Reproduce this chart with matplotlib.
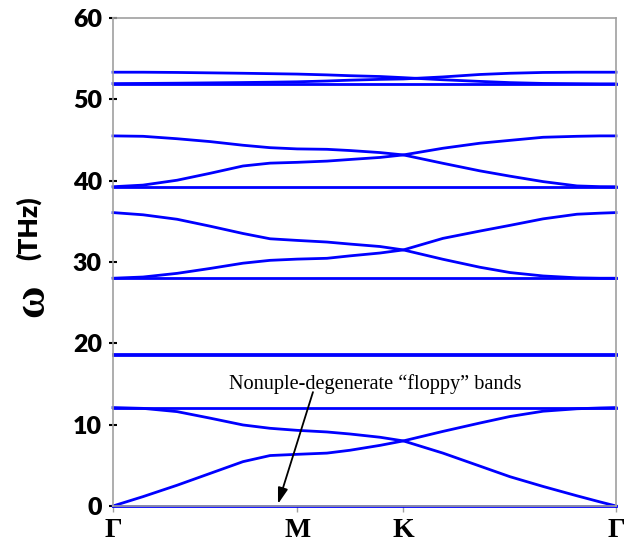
import matplotlib as mpl
mpl.use('Agg')
import matplotlib.pyplot as plt

# high-symmetry points along the path (hexagonal BZ)
sym_pos = [0.0, 1.0, 1.577, 2.732]
sym_labels = ['Γ', 'M', 'K', 'Γ']

# k grid the bands were read at
k = [0.0, 0.163, 0.348, 0.527, 0.706, 0.853, 1.0, 1.162, 1.287, 1.450,
     1.577, 1.792, 1.993, 2.156, 2.336, 2.520, 2.645, 2.732]

# flat bands (THz)
flat_bands = [0.0, 12.1, 18.55, 18.7, 28.0, 39.25, 51.9]

# dispersive bands (THz)
low_up = [0.0, 1.15, 2.55, 4.0, 5.45, 6.2, 6.35, 6.5, 6.85, 7.45,
          8.0, 9.17, 10.2, 11.0, 11.65, 11.95, 12.05, 12.1]
low_down = [12.1, 12.0, 11.6, 10.8, 9.96, 9.55, 9.3, 9.1, 8.85, 8.45,
            8.0, 6.5, 4.9, 3.6, 2.4, 1.25, 0.5, 0.0]
mid_down = [36.07, 35.8, 35.25, 34.4, 33.5, 32.85, 32.65, 32.45, 32.2, 31.9,
            31.48, 30.33, 29.35, 28.7, 28.28, 28.05, 28.0, 28.0]
mid_up = [28.0, 28.15, 28.6, 29.2, 29.85, 30.2, 30.35, 30.45, 30.75, 31.1,
          31.48, 32.9, 33.8, 34.5, 35.3, 35.87, 36.0, 36.07]
hi_down = [45.5, 45.45, 45.15, 44.8, 44.35, 44.05, 43.9, 43.85, 43.7, 43.45,
           43.16, 42.13, 41.2, 40.55, 39.88, 39.35, 39.26, 39.25]
hi_up = [39.25, 39.45, 40.05, 40.9, 41.8, 42.15, 42.25, 42.4, 42.6, 42.85,
         43.16, 43.98, 44.6, 44.95, 45.33, 45.45, 45.5, 45.5]
top_down = [53.33, 53.33, 53.3, 53.25, 53.2, 53.15, 53.1, 53.0, 52.9, 52.8,
            52.66, 52.4, 52.2, 52.05, 51.95, 51.92, 51.9, 51.9]
top_up = [51.93, 51.95, 51.98, 52.02, 52.06, 52.1, 52.15, 52.25, 52.35, 52.45,
          52.5, 52.75, 53.05, 53.2, 53.3, 53.33, 53.33, 53.33]

bands = [low_up, low_down, mid_down, mid_up, hi_down, hi_up, top_down, top_up]

fig = plt.figure(figsize=(6.29, 5.44), dpi=100)
ax = fig.add_axes([0.1797, 0.0699, 0.7996, 0.8971])

blue = '#0000ff'
for f in flat_bands:
    ax.plot([k[0], k[-1]], [f, f], color=blue, lw=2, clip_on=False)
for b in bands:
    ax.plot(k, b, color=blue, lw=2, clip_on=False, solid_joinstyle='round')

ax.set_xlim(0, sym_pos[-1])
ax.set_ylim(0, 60)

for s in ax.spines.values():
    s.set_color('#a0a0a0')
    s.set_linewidth(1.2)

ax.set_yticks([0, 10, 20, 30, 40, 50, 60])
ax.tick_params(axis='y', direction='inout', length=6, width=1.5, color='black', pad=5)
for t in ax.get_yticklabels():
    t.set_fontfamily('Lato')
    t.set_fontweight('heavy')
    t.set_fontsize(18)

ax.set_xticks(sym_pos)
ax.set_xticklabels(sym_labels, fontfamily='Liberation Serif', fontweight='bold', fontsize=20)
ax.tick_params(axis='x', direction='out', length=4, width=1, color='#a0a0a0', pad=5)

# y label: omega and unit
fig.text(32 / 629, 1 - 301 / 544, 'ω', rotation=90, ha='center', va='center',
         fontfamily='Liberation Serif', fontweight='bold', fontsize=32)
fig.text(28 / 629, 1 - 228 / 544, '(THz)', rotation=90, ha='center', va='center',
         fontfamily='Lato', fontweight='heavy', fontsize=19)

# annotation
ax.text(0.630, 14.35, 'Nonuple-degenerate \u201cfloppy\u201d bands',
        fontfamily='Liberation Serif', fontsize=14.6, ha='left', va='baseline')
ax.annotate('', xy=(0.896, 0.25), xytext=(1.086, 14.0),
            arrowprops=dict(arrowstyle='-|>,head_width=0.25,head_length=0.8',
                            color='black', lw=1.3,
                            mutation_scale=12, shrinkA=0, shrinkB=0))

fig.savefig('out.png', dpi=100)
